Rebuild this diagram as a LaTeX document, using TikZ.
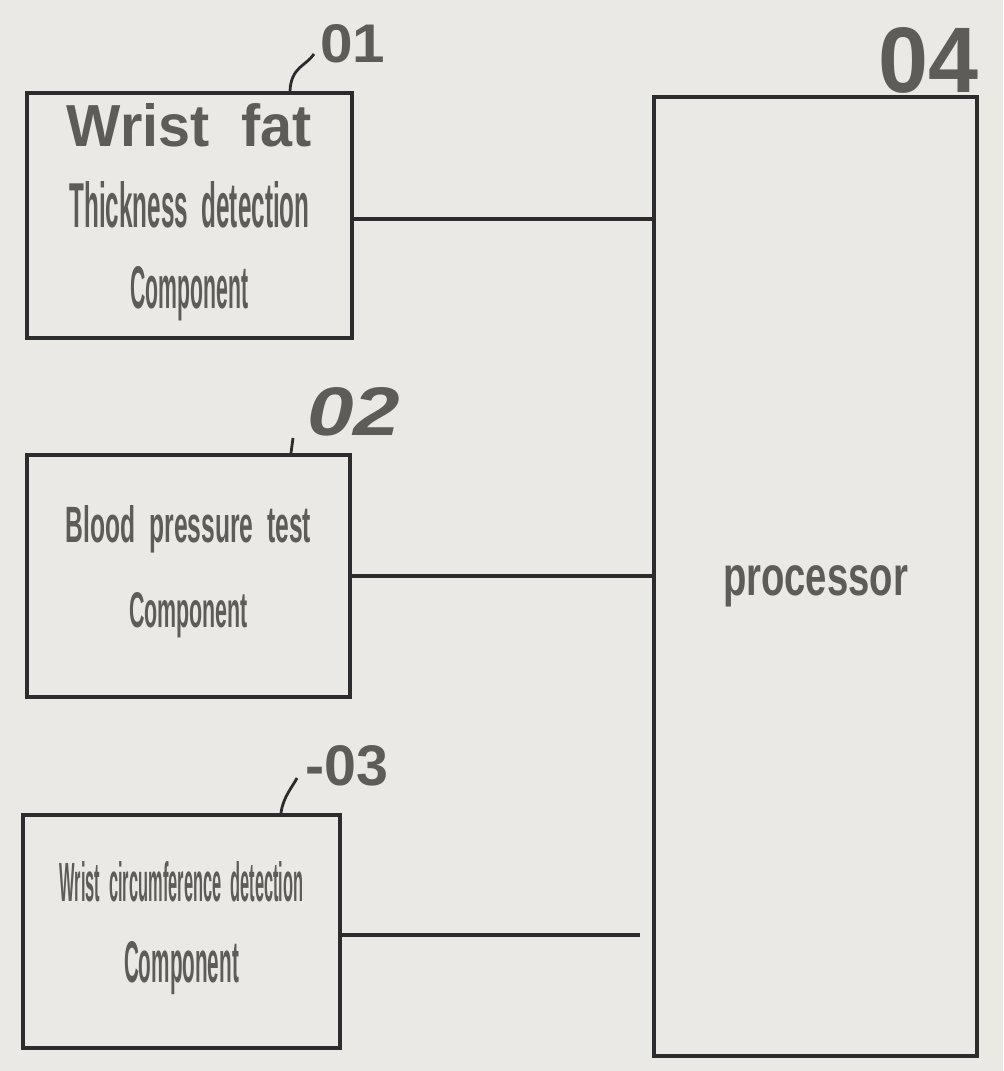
\documentclass[tikz,border=0pt]{standalone}
\usepackage{fontspec}
\setmainfont{Liberation Sans}
\usetikzlibrary{calc}
\definecolor{bg}{HTML}{EAE9E6}
\definecolor{ink}{HTML}{5E5C59}
\definecolor{edge}{HTML}{2C2C2C}
\newcommand{\lowpad}{\rule[-10pt]{0pt}{10pt}}
\begin{document}
\begin{tikzpicture}[x=0.5pt,y=-0.5pt,
  box/.style={draw=edge,line width=2pt,fill=bg,inner sep=0pt,align=center,text=ink},
  conn/.style={draw=edge,line width=1.6pt},
  leader/.style={draw=edge,line width=1.4pt},
  num/.style={anchor=base west,inner sep=0pt,text=ink,font=\bfseries}]
\useasboundingbox (0,0) rectangle (1003,1071);
\fill[bg] (0,0) rectangle (1003,1071);

\node[box,minimum width=162.5pt,minimum height=122.5pt,font=\bfseries\fontsize{10}{40.5}\selectfont] (b1) at (189.5,215.5)
  {\resizebox{122.5pt}{21.5pt}{Wrist\ \ fat}\\ \resizebox{120pt}{23pt}{Thickness\ \ detection}\\ \resizebox{59pt}{21pt}{Component}\lowpad};
\node[box,minimum width=161.5pt,minimum height=121pt,font=\bfseries\fontsize{10}{42.5}\selectfont] (b2) at (188.5,576)
  {\resizebox{122.5pt}{18.5pt}{Blood\ \ pressure\ \ test}\\ \resizebox{59.5pt}{17.5pt}{Component}\lowpad};
\node[box,minimum width=158.5pt,minimum height=116.5pt,font=\bfseries\fontsize{10}{40.5}\selectfont] (b3) at (181.5,931.5)
  {\resizebox{122pt}{20pt}{Wrist\ \ circumference\ \ detection}\\ \resizebox{57.5pt}{20.5pt}{Component}\lowpad};
\node[box,minimum width=161.5pt,minimum height=479.5pt,text height=19pt,text depth=0pt,font=\bfseries] (p) at (815.5,576.5)
  {\resizebox{92.5pt}{15pt}{processor}};

\node[num] (n1) at (320,62) {\resizebox{32.5pt}{19pt}{01}};
\node[num,font=\bfseries\itshape] (n2) at (307,435) {\resizebox{46.5pt}{24pt}{02}};
\node[num] (n3) at (305,785) {\resizebox{41.5pt}{20pt}{-03}};
\node[num] (n4) at (878,92) {\resizebox{50pt}{32.5pt}{04}};

\draw[leader] ($(b1.north west)+(265,0)$) .. controls +(1,-24) and +(-8,12) .. ($(n1.base west)+(-6,-8)$);
\draw[leader] ($(b2.north west)+(266,0)$) -- ($(n2.base west)+(-14,3)$);
\draw[leader] ($(b3.north west)+(260,0)$) .. controls +(2,-16) and +(-4,8) .. ($(n3.base west)+(-8,-7)$);

\coordinate (e1) at ([yshift=-1.75pt]b1.east);
\draw[conn] (e1) -- (e1 -| p.west);
\draw[conn] (b2.east) -- (b2.east -| p.west);
\coordinate (e3) at ([yshift=-1.75pt]b3.east);
\draw[conn,shorten >=6pt] (e3) -- (e3 -| p.west);
\end{tikzpicture}
\end{document}
